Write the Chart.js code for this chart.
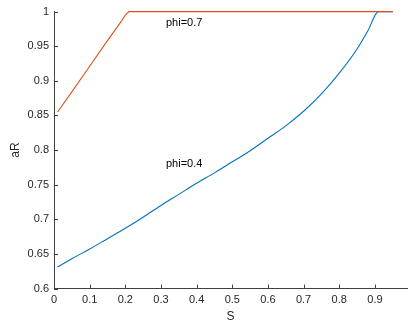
<!DOCTYPE html>
<html>
<head>
<meta charset="utf-8">
<script src="https://cdn.jsdelivr.net/npm/chart.js@4/dist/chart.umd.min.js"></script>
<style>
    html, body { margin: 0; padding: 0; background: #fff; }
    #wrap { width: 409px; height: 326px; }
</style>
</head>
<body>
<div id="wrap"><canvas id="aRChart"></canvas></div>
<script>
// values
const sBlue = [0.01, 0.05, 0.1, 0.15, 0.2, 0.25, 0.3, 0.35, 0.4, 0.45, 0.5, 0.55, 0.6, 0.65, 0.7, 0.75, 0.8, 0.85, 0.88, 0.91, 0.95];
const aRBlue = [0.631, 0.643, 0.657, 0.672, 0.687, 0.703, 0.72, 0.736, 0.752, 0.767, 0.783, 0.799, 0.817, 0.835, 0.856, 0.881, 0.911, 0.946, 0.972, 1.0, 1.0];
const sOrange = [0.01, 0.05, 0.1, 0.15, 0.19, 0.2, 0.21, 0.95];
const aROrange = [0.855, 0.884, 0.921, 0.958, 0.987, 0.995, 1.0, 1.0];
const xTickVals = [0, 0.1, 0.2, 0.3, 0.4, 0.5, 0.6, 0.7, 0.8, 0.9];
const yTickVals = [0.6, 0.65, 0.7, 0.75, 0.8, 0.85, 0.9, 0.95, 1];
const notes = [
    { text: 'phi=0.7', s: 0.314, aR: 0.984 },
    { text: 'phi=0.4', s: 0.314, aR: 0.78 }
];

const axisColor = '#404040';
const textColor = '#262626';

// MATLAB style ticks pointing into the plot, plus the text labels
const matlabBits = {
    id: 'matlabBits',
    afterDraw(chart) {
        const { ctx, scales: { x, y } } = chart;
        ctx.save();
        ctx.strokeStyle = axisColor;
        ctx.lineWidth = 1;
        ctx.beginPath();
        xTickVals.forEach(v => {
            const px = Math.round(x.getPixelForValue(v)) + 0.5;
            ctx.moveTo(px, y.bottom);
            ctx.lineTo(px, y.bottom - 4);
        });
        yTickVals.forEach(v => {
            const py = Math.round(y.getPixelForValue(v)) + 0.5;
            ctx.moveTo(x.left, py);
            ctx.lineTo(x.left + 4, py);
        });
        ctx.stroke();

        ctx.fillStyle = '#000';
        ctx.font = '11px "Liberation Sans", Arial, sans-serif';
        ctx.textAlign = 'left';
        ctx.textBaseline = 'middle';
        notes.forEach(n => {
            ctx.fillText(n.text, x.getPixelForValue(n.s), y.getPixelForValue(n.aR));
        });
        ctx.restore();
    }
};

const toPts = (xs, ys) => xs.map((v, i) => ({ x: v, y: ys[i] }));
const fmt = v => String(Number(v.toFixed(2)));

new Chart(document.getElementById('aRChart'), {
    type: 'line',
    data: {
        datasets: [{
            label: 'phi=0.7',
            data: toPts(sOrange, aROrange),
            borderColor: '#D95319',
            borderWidth: 1.1,
            pointRadius: 0,
            tension: 0,
            clip: false
        }, {
            label: 'phi=0.4',
            data: toPts(sBlue, aRBlue),
            borderColor: '#0072BD',
            borderWidth: 1.1,
            pointRadius: 0,
            cubicInterpolationMode: 'monotone',
            clip: false
        }]
    },
    options: {
        responsive: true,
        maintainAspectRatio: false,
        animation: false,
        layout: { padding: { top: 4.5, right: 2, left: 0, bottom: 0 } },
        plugins: {
            legend: { display: false },
            tooltip: { enabled: false }
        },
        scales: {
            x: {
                type: 'linear',
                min: 0,
                max: 0.99,
                afterBuildTicks: s => { s.ticks = xTickVals.map(v => ({ value: v })); },
                afterFit: s => { s.height = 37.5; },
                grid: { drawOnChartArea: false, drawTicks: false },
                border: { color: axisColor, width: 1 },
                ticks: {
                    color: textColor,
                    padding: 5,
                    maxRotation: 0,
                    font: { family: '"Liberation Sans", Arial, sans-serif', size: 11 },
                    callback: v => fmt(v)
                },
                title: {
                    display: true,
                    text: 'S',
                    color: textColor,
                    padding: { top: 0, bottom: 2.3 },
                    font: { family: '"Liberation Sans", Arial, sans-serif', size: 12 }
                }
            },
            y: {
                min: 0.6,
                max: 1,
                afterBuildTicks: s => { s.ticks = yTickVals.map(v => ({ value: v })); },
                afterFit: s => { s.width = 54; },
                grid: { drawOnChartArea: false, drawTicks: false },
                border: { color: axisColor, width: 1 },
                ticks: {
                    color: textColor,
                    padding: 5,
                    font: { family: '"Liberation Sans", Arial, sans-serif', size: 11 },
                    callback: v => fmt(v)
                },
                title: {
                    display: true,
                    text: 'aR',
                    color: textColor,
                    padding: { top: 8.8, bottom: 0 },
                    font: { family: '"Liberation Sans", Arial, sans-serif', size: 12 }
                }
            }
        }
    },
    plugins: [matlabBits]
});
</script>
</body>
</html>
